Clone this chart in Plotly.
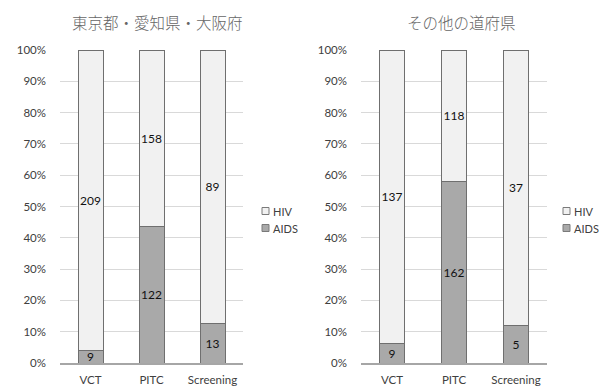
import plotly.graph_objects as go

categories = ["VCT", "PITC", "Screening"]

# 東京都・愛知県・大阪府
left_aids = [9, 122, 13]
left_hiv = [209, 158, 89]

# その他の道府県
right_aids = [9, 162, 5]
right_hiv = [137, 118, 37]

titles = ["東京都・愛知県・大阪府", "その他の道府県"]
series_names = ["HIV", "AIDS"]

AIDS_COLOR = "#a9a9a9"
HIV_COLOR = "#f1f1f1"
EDGE = "#6f6f6f"
LATIN = "Lato, 'Noto Sans CJK JP', sans-serif"
CJK = "'Noto Sans CJK JP', sans-serif"
W, H = 600, 387

fig = go.Figure()

panels = [
    ("x", "y", left_aids, left_hiv),
    ("x2", "y2", right_aids, right_hiv),
]
for xa, ya, aids, hiv in panels:
    for name, vals, col in (("AIDS", aids, AIDS_COLOR), ("HIV", hiv, HIV_COLOR)):
        fig.add_trace(go.Bar(
            x=categories, y=vals, name=name, xaxis=xa, yaxis=ya, showlegend=False,
            marker=dict(color=col, line=dict(color=EDGE, width=1)),
            text=[str(v) for v in vals], textposition="inside",
            insidetextanchor="middle", textangle=0,
            textfont=dict(family=LATIN, size=12, color="#111111"),
            hoverinfo="skip",
        ))

yaxis_style = dict(
    range=[0, 100], dtick=10, ticksuffix="%", showgrid=True,
    gridcolor="#d9d9d9", gridwidth=1, zeroline=False, showline=False,
    tickfont=dict(family=LATIN, size=11.5, color="#404040"),
    ticklabelstandoff=13, fixedrange=True, automargin=False,
)
xaxis_style = dict(
    showline=True, linecolor="#a6a6a6", linewidth=1.5, showgrid=False,
    tickfont=dict(family=LATIN, size=11.5, color="#404040"),
    ticklabelstandoff=5, fixedrange=True, automargin=False,
)

# Legend swatches and labels beside each panel
shapes, annotations = [], []
legend_cols = [262, 563]
legend_rows = [(211, HIV_COLOR), (228, AIDS_COLOR)]
for lx in legend_cols:
    for (ly, col), label in zip(legend_rows, series_names):
        shapes.append(dict(
            type="rect", xref="paper", yref="paper",
            x0=lx / W, x1=(lx + 7) / W, y0=1 - (ly + 3.5) / H, y1=1 - (ly - 3.5) / H,
            fillcolor=col, line=dict(color="#7a7a7a", width=1),
        ))
        annotations.append(dict(
            text=label, x=(lx + 9) / W, y=1 - ly / H, xref="paper", yref="paper",
            showarrow=False, xanchor="left", yanchor="middle",
            font=dict(family=LATIN, size=11, color="#404040"),
        ))

for title, cx in zip(titles, (158, 461)):
    annotations.append(dict(
        text=title, x=cx / W, y=1 - 22 / H, xref="paper", yref="paper",
        showarrow=False, xanchor="center", yanchor="middle",
        font=dict(family=CJK, size=15.5, color="#666666", weight=300),
    ))

fig.update_layout(
    width=W, height=H,
    margin=dict(l=0, r=0, t=0, b=0),
    paper_bgcolor="white", plot_bgcolor="white",
    barmode="stack", barnorm="percent", bargap=0.59,
    uniformtext=dict(minsize=12, mode="show"),
    xaxis=dict(domain=[60 / W, 243 / W], anchor="y", **xaxis_style),
    yaxis=dict(domain=[24 / H, 337 / H], anchor="x", **yaxis_style),
    xaxis2=dict(domain=[361 / W, 547 / W], anchor="y2", **xaxis_style),
    yaxis2=dict(domain=[24 / H, 337 / H], anchor="x2", **yaxis_style),
    showlegend=False,
    shapes=shapes,
    annotations=annotations,
)

fig.write_html("out.html")
